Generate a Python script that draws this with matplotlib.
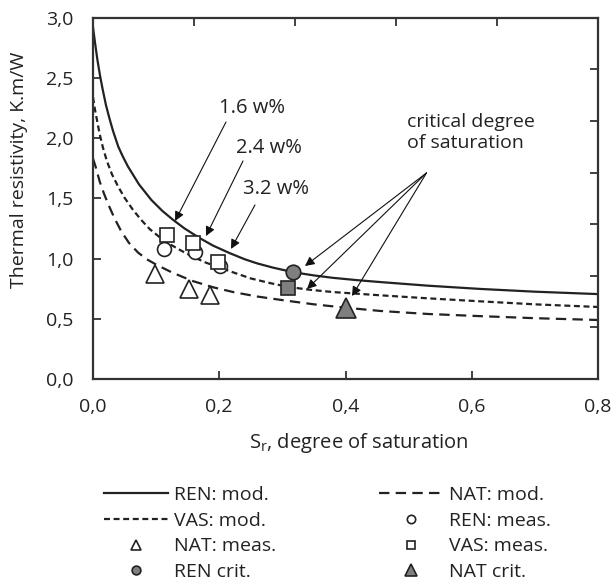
import matplotlib
matplotlib.use("Agg")
import matplotlib.pyplot as plt

plt.rcParams['font.family'] = ['Open Sans', 'DejaVu Sans']
plt.rcParams['mathtext.fontset'] = 'custom'
plt.rcParams['mathtext.rm'] = 'Open Sans'
plt.rcParams['lines.scale_dashes'] = False

# ---- model curves ----
ren_sr = [0.0, 0.003, 0.007, 0.0111, 0.0155, 0.0205, 0.026, 0.0317, 0.04, 0.047, 0.0554, 0.073, 0.0924,
          0.11, 0.127, 0.145, 0.169, 0.19, 0.2166, 0.24, 0.26, 0.285, 0.317, 0.35, 0.38, 0.42, 0.455,
          0.53, 0.613, 0.70, 0.80]
ren_r = [2.92, 2.80, 2.65, 2.52, 2.40, 2.275, 2.165, 2.06, 1.93, 1.85, 1.764, 1.615, 1.487,
         1.395, 1.321, 1.25, 1.17, 1.108, 1.045, 0.995, 0.96, 0.925, 0.887, 0.86, 0.84, 0.82, 0.805,
         0.775, 0.748, 0.725, 0.705]

vas_sr = [0.0, 0.003, 0.0063, 0.0105, 0.0158, 0.022, 0.03, 0.0396, 0.05, 0.0634, 0.0765, 0.0898, 0.105,
          0.1215, 0.14, 0.158, 0.178, 0.2007, 0.225, 0.25, 0.28, 0.309, 0.345, 0.38, 0.455, 0.53,
          0.613, 0.70, 0.80]
vas_r = [2.34, 2.24, 2.15, 2.035, 1.92, 1.81, 1.70, 1.60, 1.505, 1.404, 1.32, 1.245, 1.18,
         1.12, 1.065, 1.016, 0.968, 0.925, 0.88, 0.835, 0.797, 0.765, 0.74, 0.722, 0.695, 0.67,
         0.645, 0.62, 0.598]

nat_sr = [0.0, 0.0043, 0.0106, 0.017, 0.0238, 0.034, 0.0449, 0.057, 0.0713, 0.085, 0.10, 0.125, 0.157,
          0.19, 0.222, 0.26, 0.304, 0.35, 0.40, 0.455, 0.53, 0.613, 0.70, 0.80]
nat_r = [1.83, 1.76, 1.64, 1.545, 1.455, 1.335, 1.225, 1.13, 1.05, 0.995, 0.95, 0.885, 0.815,
         0.762, 0.722, 0.685, 0.652, 0.62, 0.592, 0.565, 0.54, 0.522, 0.505, 0.49]

# ---- measurements ----
ren_meas_sr = [0.1125, 0.1616, 0.201]
ren_meas_r = [1.08, 1.053, 0.939]
vas_meas_sr = [0.1167, 0.159, 0.1985]
vas_meas_r = [1.197, 1.128, 0.975]
nat_meas_sr = [0.098, 0.1526, 0.186]
nat_meas_r = [0.87, 0.745, 0.697]

# ---- critical points ----
ren_crit = (0.317, 0.887)
vas_crit = (0.309, 0.759)
nat_crit = (0.401, 0.592)

labels_w = ['1.6 w%', '2.4 w%', '3.2 w%']
w_text_xy = [(0.2519, 2.25), (0.2788, 1.918), (0.290, 1.574)]
w_arrow_from = [(0.2107, 2.134), (0.2376, 1.81), (0.2566, 1.445)]
w_arrow_to = [(0.130, 1.312), (0.179, 1.187), (0.2186, 1.08)]
crit_text = 'critical degree\nof saturation'
crit_text_xy = (0.497, 2.045)
crit_from = (0.5283, 1.711)
crit_to = [(0.3358, 0.938), (0.339, 0.747), (0.4103, 0.689)]

xticks = [0.0, 0.2, 0.4, 0.6, 0.8]
xticklabels = ['0,0', '0,2', '0,4', '0,6', '0,8']
yticks = [0.0, 0.5, 1.0, 1.5, 2.0, 2.5, 3.0]
yticklabels = ['0,0', '0,5', '1,0', '1,5', '2,0', '2,5', '3,0']

W, H = 614, 583
fig = plt.figure(figsize=(W / 100, H / 100), dpi=100)
ax = fig.add_axes([93 / W, 1 - 379 / H, (598 - 93) / W, (379 - 17.7) / H])

dark = '#222222'
grey = '#7f7f7f'
fs = 14

l_ren, = ax.plot(ren_sr, ren_r, color=dark, lw=1.6, label='REN: mod.')
l_vas, = ax.plot(vas_sr, vas_r, color=dark, lw=1.6, dashes=(4.3, 2.6), label='VAS: mod.')
l_nat, = ax.plot(nat_sr, nat_r, color=dark, lw=1.6, dashes=(7.5, 4.5), label='NAT: mod.')

mk = dict(linestyle='none', mec=dark, mew=1.2, mfc='white')
p_ren, = ax.plot(ren_meas_sr, ren_meas_r, marker='o', ms=10, label='REN: meas.', **mk)
p_vas, = ax.plot(vas_meas_sr, vas_meas_r, marker='s', ms=10.5, label='VAS: meas.', **mk)
p_nat, = ax.plot(nat_meas_sr, nat_meas_r, marker='^', ms=13, label='NAT: meas.', **mk)

ck = dict(linestyle='none', mec=dark, mew=1.2, mfc=grey)
c_ren, = ax.plot([ren_crit[0]], [ren_crit[1]], marker='o', ms=10.5, label='REN crit.', **ck)
c_vas, = ax.plot([vas_crit[0]], [vas_crit[1]], marker='s', ms=10.5, **ck)
c_nat, = ax.plot([nat_crit[0]], [nat_crit[1]], marker='^', ms=14, label='NAT crit.', **ck)

arrowprops = dict(arrowstyle='-|>', color='#111111', lw=0.8, mutation_scale=14, shrinkA=0, shrinkB=0)
for lab, txy, a0, a1 in zip(labels_w, w_text_xy, w_arrow_from, w_arrow_to):
    ax.text(txy[0], txy[1], lab, fontsize=14.5, ha='center', va='center', color='#222222')
    ax.annotate('', xy=a1, xytext=a0, arrowprops=arrowprops)
ax.text(crit_text_xy[0], crit_text_xy[1], crit_text, fontsize=fs, ha='left', va='center',
        color='#222222', linespacing=1.2)
for t in crit_to:
    ax.annotate('', xy=t, xytext=crit_from, arrowprops=arrowprops)

ax.set_xlim(0, 0.8)
ax.set_ylim(0, 3.0)
ax.set_xticks(xticks)
ax.set_xticklabels(xticklabels)
ax.set_yticks(yticks)
ax.set_yticklabels(yticklabels)
ax.tick_params(direction='in', length=6, width=1.3, color='#333333', labelsize=fs,
               labelcolor='#222222', pad=14)
for s in ax.spines.values():
    s.set_linewidth(1.6)
    s.set_color('#333333')

# secondary (unlabelled) tick marks on top and right spines
axt = ax.secondary_xaxis('top')
axt.set_xticks([0.16, 0.32, 0.48, 0.64])
axt.tick_params(direction='in', length=6, width=1.3, color='#333333', labeltop=False)
axt.spines['top'].set_visible(False)
axr = ax.secondary_yaxis('right')
axr.set_yticks([3.0 * k / 7 for k in range(1, 7)])
axr.tick_params(direction='in', length=6, width=1.3, color='#333333', labelright=False)
axr.spines['right'].set_visible(False)

ax.set_xlabel('S$_\\mathrm{r}$, degree of saturation', fontsize=14.5, color='#222222')
ax.set_ylabel('Thermal resistivity, K.m/W', fontsize=fs, color='#222222')
ax.xaxis.set_label_coords(0.526, -0.145)
ax.yaxis.set_label_coords(-0.128, 0.58)

handles = [l_ren, l_vas, p_nat, c_ren, l_nat, p_ren, p_vas, c_nat]
leg = fig.legend(handles=handles, labels=[h.get_label() for h in handles], ncol=2,
                 loc='upper left', bbox_to_anchor=(96 / W, 1 - 478 / H), frameon=False,
                 fontsize=fs, handlelength=3.3, markerscale=0.6, columnspacing=5.3,
                 handletextpad=0.3, labelspacing=0.4, borderaxespad=0)
for t in leg.get_texts():
    t.set_color('#222222')

fig.savefig('out.png', dpi=100)
